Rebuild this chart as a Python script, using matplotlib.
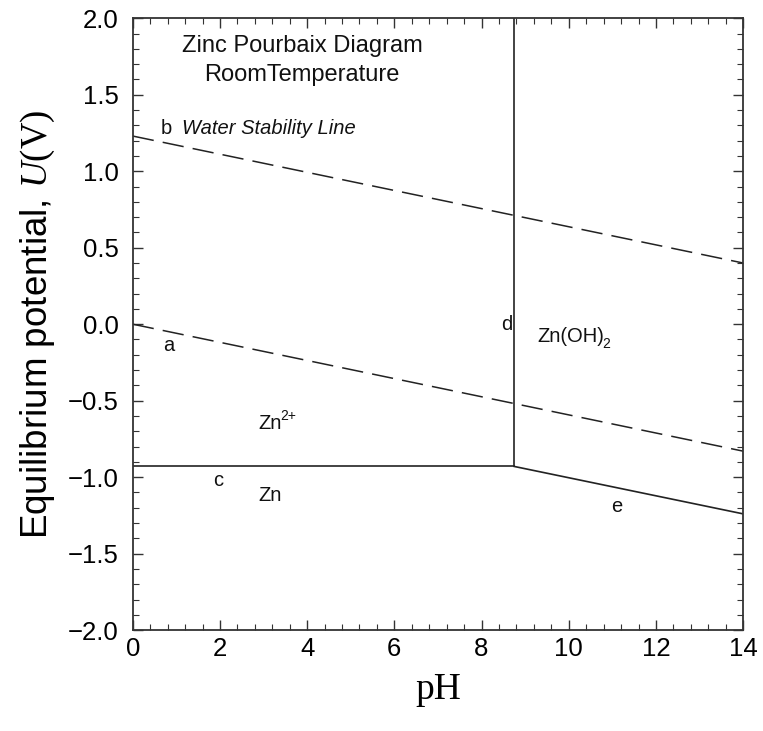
import matplotlib
matplotlib.use("Agg")
import matplotlib.pyplot as plt
from matplotlib.ticker import MultipleLocator

# Data
ph_a = [0.0, 14.0]
u_a = [0.0, -0.83]          # line a (H2 evolution)
ph_b = [0.0, 14.0]
u_b = [1.23, 0.40]          # line b (O2 evolution)
ph_c = [0.0, 8.75]
u_c = [-0.93, -0.93]        # line c Zn/Zn2+
ph_d = [8.75, 8.75]
u_d = [-0.93, 2.0]          # line d Zn2+/Zn(OH)2
ph_e = [8.75, 14.0]
u_e = [-0.93, -1.24]        # line e Zn/Zn(OH)2

x_ticks = [0, 2, 4, 6, 8, 10, 12, 14]
y_ticks = [-2.0, -1.5, -1.0, -0.5, 0.0, 0.5, 1.0, 1.5, 2.0]

plt.rcParams['font.family'] = ['Liberation Sans', 'DejaVu Sans']
plt.rcParams['mathtext.fontset'] = 'custom'
plt.rcParams['mathtext.rm'] = 'Liberation Serif'
plt.rcParams['mathtext.it'] = 'Liberation Serif:italic'

fig = plt.figure(figsize=(7.63, 7.31), dpi=100)
ax = fig.add_axes([0.174, 0.138, 0.800, 0.837])

lc = '#222222'
ax.plot(ph_a, u_a, color=lc, lw=1.1, dashes=(14, 6))
ax.plot(ph_b, u_b, color=lc, lw=1.1, dashes=(14, 6))
ax.plot(ph_c, u_c, color=lc, lw=1.2)
ax.plot(ph_d, u_d, color=lc, lw=1.2)
ax.plot(ph_e, u_e, color=lc, lw=1.2)

ax.set_xlim(0, 14)
ax.set_ylim(-2, 2)
ax.set_xticks(x_ticks)
ax.set_yticks(y_ticks)
ax.set_xticklabels([str(v) for v in x_ticks])
ax.set_yticklabels([f"{v:.1f}".replace('-', '\u2212') for v in y_ticks])
ax.xaxis.set_minor_locator(MultipleLocator(0.4))
ax.yaxis.set_minor_locator(MultipleLocator(0.1))
ax.tick_params(which='both', direction='in', top=True, right=True,
               labelsize=18.5, color='#333333')
ax.tick_params(axis='y', which='major', pad=10)
ax.tick_params(axis='x', which='major', pad=5)
ax.tick_params(which='major', length=7, width=1.0)
ax.tick_params(which='minor', length=4, width=0.8)
for s in ax.spines.values():
    s.set_linewidth(1.3)
    s.set_color('#333333')

ax.set_xlabel('pH', family='Liberation Serif', fontsize=27, labelpad=8)
ax.set_ylabel(r'Equilibrium potential, $\mathit{U}\mathrm{(V)}$', fontsize=26.5, labelpad=8)

tc = '#111111'
ax.text(3.88, 1.82, 'Zinc Pourbaix Diagram', fontsize=17, ha='center', va='center', color=tc)
ax.text(3.88, 1.63, 'RoomTemperature', fontsize=17, ha='center', va='center', color=tc)
ax.text(0.78, 1.28, 'b', fontsize=14.5, ha='center', va='center', color=tc)
ax.text(1.12, 1.28, 'Water Stability Line', fontsize=14.5, style='italic', ha='left', va='center', color=tc)
ax.text(0.82, -0.14, 'a', fontsize=14.5, ha='center', va='center', color=tc)
ax.text(2.88, -0.65, 'Zn', fontsize=14.5, ha='left', va='center', color=tc)
ax.text(3.38, -0.60, '2+', fontsize=10, ha='left', va='center', color=tc)
ax.text(1.95, -1.02, 'c', fontsize=14.5, ha='center', va='center', color=tc)
ax.text(3.14, -1.12, 'Zn', fontsize=14.5, ha='center', va='center', color=tc)
ax.text(8.58, 0.0, 'd', fontsize=14.5, ha='center', va='center', color=tc)
ax.text(9.27, -0.08, 'Zn(OH)', fontsize=14.5, ha='left', va='center', color=tc)
ax.text(10.77, -0.13, '2', fontsize=10, ha='left', va='center', color=tc)
ax.text(11.1, -1.19, 'e', fontsize=14.5, ha='center', va='center', color=tc)

fig.savefig('out.png', dpi=100)
